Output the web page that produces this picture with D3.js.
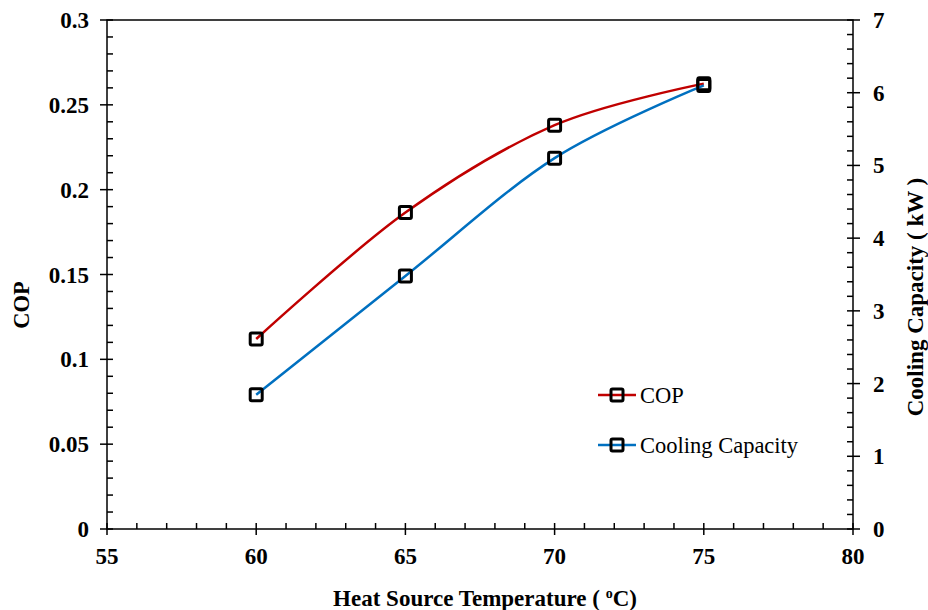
<!DOCTYPE html>
<html>
<head>
<meta charset="utf-8">
<script src="https://cdn.jsdelivr.net/npm/d3@7"></script>
<style>
  body { margin: 0; background: #fff; }
  svg { font-family: "Liberation Serif", "Times New Roman", serif; }
</style>
</head>
<body>
<div id="chart"></div>
<script>
// data
const temps = [60, 65, 70, 75];
const cop = [0.112, 0.1865, 0.238, 0.2625];
const coolingCap = [1.845, 3.48, 5.10, 6.10];

const xTicks = [55, 60, 65, 70, 75, 80];
const copTicks = [0, 0.05, 0.1, 0.15, 0.2, 0.25, 0.3];
const capTicks = [0, 1, 2, 3, 4, 5, 6, 7];

const width = 928;
const height = 610;
const margin = {top: 20, right: 75, bottom: 81, left: 107};

const x = d3.scaleLinear().domain([55, 80]).range([margin.left, width - margin.right]);
const yL = d3.scaleLinear().domain([0, 0.3]).range([height - margin.bottom, margin.top]);
const yR = d3.scaleLinear().domain([0, 7]).range([height - margin.bottom, margin.top]);

const svg = d3.select('#chart').append('svg')
  .attr('width', width)
  .attr('height', height);

const x0 = margin.left, x1 = width - margin.right;
const y0 = height - margin.bottom, y1 = margin.top;

// frame
svg.append('rect')
  .attr('x', x0).attr('y', y1)
  .attr('width', x1 - x0).attr('height', y0 - y1)
  .attr('fill', 'none').attr('stroke', '#000').attr('stroke-width', 1.5);

const tickG = svg.append('g').attr('stroke', '#000').attr('stroke-width', 1.5);

// x ticks: minor every 1, major every 5
d3.range(55, 80.01, 1).forEach(v => {
  const major = v % 5 === 0;
  tickG.append('line')
    .attr('x1', x(v)).attr('x2', x(v))
    .attr('y1', y0 + (major ? 6 : 0)).attr('y2', y0 - 6);
});
// left ticks
d3.range(0, 0.3001, 0.01).forEach((v, i) => {
  const major = i % 5 === 0;
  tickG.append('line')
    .attr('x1', x0 - (major ? 7 : 0)).attr('x2', x0 + 6)
    .attr('y1', yL(v)).attr('y2', yL(v));
});
// right ticks
d3.range(0, 7.001, 0.2).forEach((v, i) => {
  const major = i % 5 === 0;
  tickG.append('line')
    .attr('x1', x1 + (major ? 7 : 0)).attr('x2', x1 - 6)
    .attr('y1', yR(v)).attr('y2', yR(v));
});

// tick labels
svg.append('g').selectAll('text')
  .data(xTicks).join('text')
  .attr('x', d => x(d)).attr('y', y0 + 35)
  .attr('text-anchor', 'middle')
  .attr('font-size', 23).attr('font-weight', 'bold')
  .text(d => d);

svg.append('g').selectAll('text')
  .data(copTicks).join('text')
  .attr('x', x0 - 18).attr('y', d => yL(d) + 8)
  .attr('text-anchor', 'end')
  .attr('font-size', 23).attr('font-weight', 'bold')
  .text(d => d);

svg.append('g').selectAll('text')
  .data(capTicks).join('text')
  .attr('x', x1 + 20).attr('y', d => yR(d) + 8)
  .attr('text-anchor', 'start')
  .attr('font-size', 23).attr('font-weight', 'bold')
  .text(d => d);

// axis titles
const xTitle = svg.append('text')
  .attr('x', 485).attr('y', 606)
  .attr('text-anchor', 'middle')
  .attr('font-size', 23).attr('font-weight', 'bold');
xTitle.append('tspan').text('Heat Source Temperature ( ');
xTitle.append('tspan').attr('font-size', 14).attr('dy', -8).text('o');
xTitle.append('tspan').attr('dy', 8).text('C)');

svg.append('text')
  .attr('transform', 'translate(29,305) rotate(-90)')
  .attr('text-anchor', 'middle')
  .attr('font-size', 22.5).attr('font-weight', 'bold')
  .text('COP');

svg.append('text')
  .attr('transform', 'translate(923,297) rotate(-90)')
  .attr('text-anchor', 'middle')
  .attr('font-size', 23).attr('font-weight', 'bold')
  .text('Cooling Capacity ( kW )');

// series
const series = [
  {name: 'COP', values: cop, y: yL, color: '#C00000'},
  {name: 'Cooling Capacity', values: coolingCap, y: yR, color: '#0070C0'}
];

const line = d3.line().curve(d3.curveCatmullRom.alpha(0));

series.forEach(s => {
  const pts = temps.map((t, i) => [x(t), s.y(s.values[i])]);
  svg.append('path')
    .attr('d', line(pts))
    .attr('fill', 'none')
    .attr('stroke', s.color)
    .attr('stroke-width', 2.5);
  svg.append('g').selectAll('rect')
    .data(pts).join('rect')
    .attr('x', d => d[0] - 6).attr('y', d => d[1] - 6)
    .attr('width', 12).attr('height', 12)
    .attr('rx', 1.5)
    .attr('fill', 'none')
    .attr('stroke', '#000')
    .attr('stroke-width', 3);
});

// legend
const legend = svg.append('g');
series.forEach((s, i) => {
  const ly = 395 + i * 50;
  legend.append('line')
    .attr('x1', 598).attr('x2', 636)
    .attr('y1', ly).attr('y2', ly)
    .attr('stroke', s.color).attr('stroke-width', 2.5);
  legend.append('rect')
    .attr('x', 611).attr('y', ly - 6)
    .attr('width', 12).attr('height', 12)
    .attr('rx', 1.5)
    .attr('fill', 'none').attr('stroke', '#000').attr('stroke-width', 3);
  legend.append('text')
    .attr('x', 640).attr('y', ly + 8)
    .attr('font-size', 22.5)
    .text(s.name);
});
</script>
</body>
</html>
